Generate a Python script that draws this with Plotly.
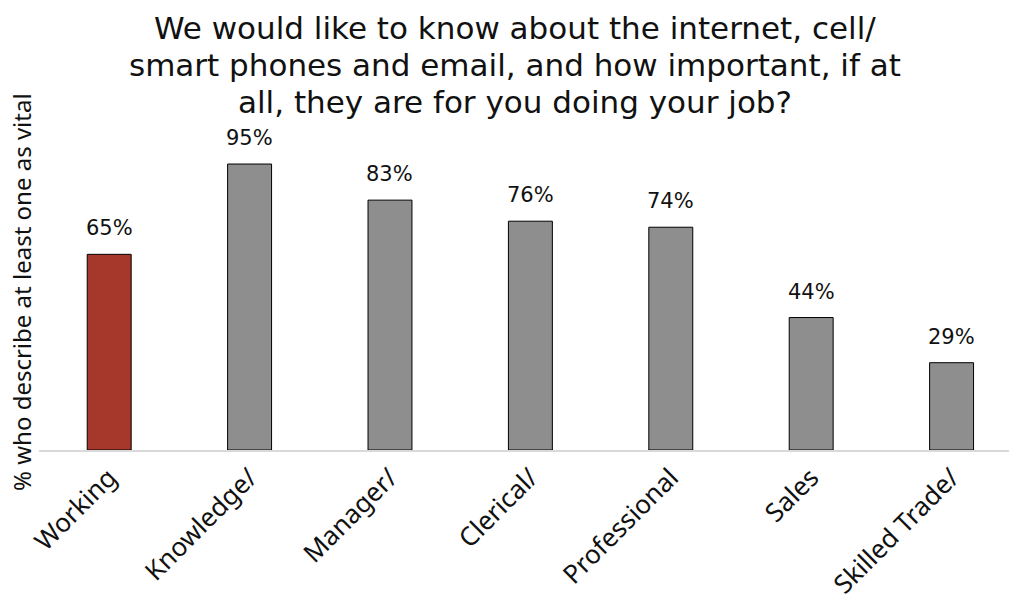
import plotly.graph_objects as go

categories = ["Working", "Knowledge/", "Manager/", "Clerical/", "Professional", "Sales", "Skilled Trade/"]
values = [65, 95, 83, 76, 74, 44, 29]
labels = ["65%", "95%", "83%", "76%", "74%", "44%", "29%"]
colors = ["#A5382A"] + ["#8E8E8E"] * 6
title_lines = ["We would like to know about the internet, cell/",
               "smart phones and email, and how important, if at",
               "all, they are for you doing your job?"]

L, R, T, B = 39, 0, 130, 144
W, H = 1009, 594
PW, PH = W - L - R, H - T - B

def px_x(p):
    return (p - L) / PW

def px_y(p):
    return (H - B - p) / PH

fig = go.Figure()
fig.add_trace(go.Bar(
    x=categories, y=values, width=0.313,
    marker=dict(color=colors, line=dict(color="#000000", width=1)),
    hoverinfo="skip",
))
for c, v, t in zip(categories, values, labels):
    fig.add_annotation(x=c, y=v, text=t, showarrow=False, yanchor="bottom",
                       yshift=12, font=dict(family="DejaVu Sans", size=21, color="#111111"))

fig.add_annotation(x=px_x(21), xref="paper", y=px_y(292), yref="paper",
                   text="% who describe at least one as vital",
                   textangle=-90, showarrow=False, xanchor="center", yanchor="middle",
                   font=dict(family="Noto Sans", size=24, color="#111111"))

for i, line in enumerate(title_lines):
    fig.add_annotation(x=px_x(515), xref="paper", y=px_y(28 + 37 * i), yref="paper",
                       text=line, showarrow=False, xanchor="center", yanchor="middle",
                       font=dict(family="DejaVu Sans", size=31, color="#111111"))

fig.update_layout(
    width=W, height=H,
    margin=dict(l=L, r=R, t=T, b=B),
    paper_bgcolor="white", plot_bgcolor="white",
    showlegend=False,
    xaxis=dict(range=[-0.5, 6.409], showline=True, linecolor="#D9D9D9", linewidth=2,
               tickangle=-45, ticks="", showgrid=False, automargin=False,
               tickfont=dict(family="Noto Sans", size=26, color="#111111")),
    yaxis=dict(range=[0, 106.3], visible=False, showgrid=False),
)

fig.write_html("out.html")
